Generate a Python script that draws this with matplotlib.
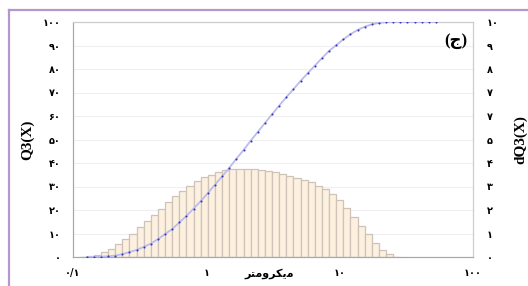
import matplotlib
matplotlib.use('Agg')
import matplotlib.pyplot as plt
from matplotlib.lines import Line2D
from matplotlib.ticker import FixedLocator, LogLocator, NullFormatter

# size class edges (micrometre), one more than the number of bars
size_edges = [0.112, 0.1267, 0.1433, 0.1620, 0.1833, 0.2073, 0.2344, 0.2651, 0.2999,
              0.3392, 0.3836, 0.4338, 0.4907, 0.5550, 0.6277, 0.7099, 0.8029, 0.9080,
              1.027, 1.162, 1.314, 1.486, 1.680, 1.901, 2.150, 2.431, 2.750, 3.110,
              3.517, 3.978, 4.499, 5.088, 5.755, 6.509, 7.362, 8.326, 9.417, 10.65,
              12.05, 13.62, 15.41, 17.43, 19.71, 22.29, 25.21, 28.52]
# extra points of the cumulative curve past the last bar
tail_edges = [32.25, 36.48, 41.25, 46.66, 52.77]

# dQ3 per class (right axis)
dq3 = [0.02, 0.04, 0.10, 0.23, 0.35, 0.54, 0.75, 0.98, 1.26, 1.54, 1.79, 2.06,
       2.34, 2.60, 2.82, 3.04, 3.25, 3.39, 3.50, 3.60, 3.70, 3.73, 3.73, 3.73,
       3.73, 3.70, 3.66, 3.60, 3.53, 3.46, 3.38, 3.28, 3.18, 3.04, 2.88, 2.68,
       2.43, 2.09, 1.72, 1.33, 0.96, 0.61, 0.30, 0.13, 0.02]

# cumulative Q3 (left axis), from the second size edge onwards
q3 = [0.0, 0.05, 0.15, 0.3, 0.6, 1.2, 2.1, 3.0, 4.3, 5.7, 7.6, 9.8, 11.9, 14.7,
      17.5, 20.6, 23.8, 27.2, 30.8, 34.3, 37.9, 41.8, 45.5, 49.5, 53.2, 57.0,
      60.7, 64.4, 68.0, 71.4, 74.9, 78.2, 81.4, 84.6, 87.7, 90.1, 92.6, 94.8,
      96.6, 98.0, 99.0, 99.6, 99.9, 100, 100, 100, 100, 100, 100, 100]

x_ticks = [0.1, 1, 10, 100]
x_labels = ['۰/۱', '۱', '۱۰', '۱۰۰']
left_ticks = [0, 10, 20, 30, 40, 50, 60, 70, 80, 90, 100]
left_labels = ['۰', '۱۰', '۲۰', '۳۰', '۴۰', '۵۰', '۶۰', '۷۰', '۸۰', '۹۰', '۱۰۰']
right_ticks = [0, 1, 2, 3, 4, 5, 6, 7, 8, 9, 10]
right_labels = ['۰', '۱', '۲', '۳', '۴', '۵', '۷', '۷', '۸', '۹', '۱۰']

# "micrometre", pre-shaped glyphs in visual order
x_title = '\uFEAE\uFE98\uFEE3\uFEED\uFEAE\uFB91\uFBFE\uFEE3'

serif = ['Liberation Serif', 'DejaVu Sans']
digits = ['DejaVu Sans']

fig = plt.figure(figsize=(5.28, 2.86), dpi=100)
ax = fig.add_axes([73 / 528, 29 / 286, 400 / 528, 235 / 286])
ax2 = ax.twinx()

# bars + grid on the right axis (drawn underneath), curve on the left axis (on top)
ax2.set_zorder(1)
ax.set_zorder(2)
ax.patch.set_visible(False)
ax2.patch.set_visible(True)
ax2.patch.set_facecolor('white')

lefts = size_edges[:-1]
widths = [b - a for a, b in zip(size_edges[:-1], size_edges[1:])]
ax2.bar(lefts, dq3, width=widths, align='edge', color='#fdf0df',
        edgecolor='#cdc3b8', linewidth=0.9)

ax.set_xscale('log')
ax2.set_xscale('log')
ax.set_xlim(0.1, 100)
ax.set_ylim(0, 100)
ax2.set_ylim(0, 10)

curve_x = size_edges[1:] + tail_edges
ax.plot(curve_x, q3, color='#bcbcea', linewidth=1.3, zorder=3)
ax.plot(curve_x, q3, linestyle='none', marker='o', markersize=1.5,
        markeredgewidth=0, color='#3434c4', zorder=4)

# faint grid
ax2.xaxis.set_major_locator(FixedLocator(x_ticks))
ax2.xaxis.set_minor_locator(LogLocator(base=10, subs=range(2, 10)))
ax2.xaxis.set_minor_formatter(NullFormatter())
ax2.grid(True, which='both', axis='x', color='#efeff3', linewidth=0.8)
ax2.set_yticks(right_ticks)
ax2.grid(True, which='major', axis='y', color='#efeff3', linewidth=0.8)
ax2.set_axisbelow(True)

ax.set_xticks(x_ticks)
ax.set_xticklabels(x_labels, family=digits, fontweight='bold', fontsize=7)
ax.xaxis.set_minor_formatter(NullFormatter())
ax.set_yticks(left_ticks)
ax.set_yticklabels(left_labels, family=digits, fontweight='bold', fontsize=7)
ax2.set_yticklabels(right_labels, family=digits, fontweight='bold', fontsize=7)
ax.tick_params(which='both', length=0)
ax2.tick_params(which='both', length=0)
ax.tick_params(axis='x', pad=8)
ax.tick_params(axis='y', pad=9)
ax2.tick_params(axis='y', pad=10)

for a in (ax, ax2):
    a.spines['left'].set_color('#a8a8a8')
    a.spines['bottom'].set_color('#a8a8a8')
    a.spines['top'].set_color('#cccccc')
    a.spines['right'].set_color('#cccccc')

ax.set_ylabel('Q3(X)', family=serif, fontweight='bold', fontsize=11, labelpad=6)
ax2.set_ylabel('dQ3(X)', family=serif, fontweight='bold', fontsize=11, labelpad=11)

ax.text(0.49, -0.05, x_title, transform=ax.transAxes, family=digits,
        fontweight='bold', fontsize=8, ha='center', va='top')
ax.text(0.985, 0.92, '(ج)', transform=ax.transAxes, family=serif,
        fontweight='bold', fontsize=12, ha='right', va='center')

# purple frame on left and top
fig.add_artist(Line2D([8.5 / 528, 8.5 / 528], [0, 1 - 10 / 286],
                      color='#b596cf', linewidth=1.6))
fig.add_artist(Line2D([8.5 / 528, 1], [1 - 10 / 286, 1 - 10 / 286],
                      color='#b596cf', linewidth=1.6))

fig.savefig('out.png', dpi=100)
